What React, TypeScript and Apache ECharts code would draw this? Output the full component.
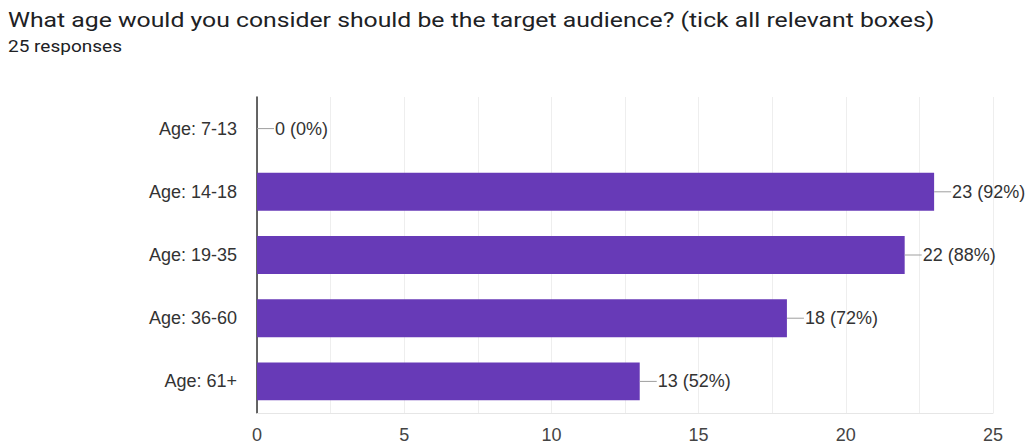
import React, { useEffect, useRef } from "react";
import * as echarts from "echarts";

const titleText = "What age would you consider should be the target audience? (tick all relevant boxes)";
const subText = "25 responses";
const categories = ["Age: 7-13", "Age: 14-18", "Age: 19-35", "Age: 36-60", "Age: 61+"];
const counts = [0, 23, 22, 18, 13];
const percents = ["0%", "92%", "88%", "72%", "52%"];

export default function App() {
  const ref = useRef<HTMLDivElement>(null);
  useEffect(() => {
    document.body.style.margin = "0";
    const chart = echarts.init(ref.current!, null, { renderer: "svg" });
    chart.setOption({
      animation: false,
      backgroundColor: "#ffffff",
      graphic: [
        {
          type: "text",
          x: 8,
          y: 10,
          scaleX: 1.18,
          style: { text: titleText, x: 0, y: 0, verticalAlign: "top", fontFamily: "Roboto", fontSize: 21, fill: "#202124" },
        },
        {
          type: "text",
          x: 8,
          y: 37,
          scaleX: 1.12,
          style: { text: subText, x: 0, y: 0, verticalAlign: "top", fontFamily: "Roboto", fontSize: 17, fill: "#202124" },
        },
      ],
      grid: { left: 257, right: 36, top: 97, bottom: 31 },
      xAxis: {
        type: "value",
        min: 0,
        max: 25,
        interval: 5,
        axisLine: { show: true, lineStyle: { color: "#e6e6e6", width: 1 } },
        axisTick: { show: false },
        splitLine: { show: true, lineStyle: { color: "#eeeeee", width: 1 } },
        minorTick: { show: false, splitNumber: 2 },
        minorSplitLine: { show: true, lineStyle: { color: "#eeeeee", width: 1 } },
        axisLabel: { fontFamily: "Liberation Sans", fontSize: 18, color: "#444444", margin: 13 },
      },
      yAxis: {
        type: "category",
        data: categories,
        inverse: true,
        axisLine: { show: true, lineStyle: { color: "#333333", width: 1.5 } },
        axisTick: { show: false },
        splitLine: { show: false },
        axisLabel: { fontFamily: "Liberation Sans", fontSize: 18, color: "#333333", margin: 20 },
      },
      series: [
        {
          type: "bar",
          data: counts,
          barCategoryGap: "40%",
          itemStyle: { color: "#673ab7" },
          label: {
            show: true,
            position: "right",
            distance: 0,
            formatter: (p: any) => `{l|}{t|${counts[p.dataIndex]} (${percents[p.dataIndex]})}`,
            rich: {
              l: { width: 17, height: 1, backgroundColor: "#9e9e9e" },
              t: { fontFamily: "Liberation Sans", fontSize: 18, color: "#333333", padding: [0, 0, 0, 1] },
            },
          },
        },
      ],
    });
    return () => chart.dispose();
  }, []);
  return <div ref={ref} style={{ width: 1029, height: 444 }} />;
}
